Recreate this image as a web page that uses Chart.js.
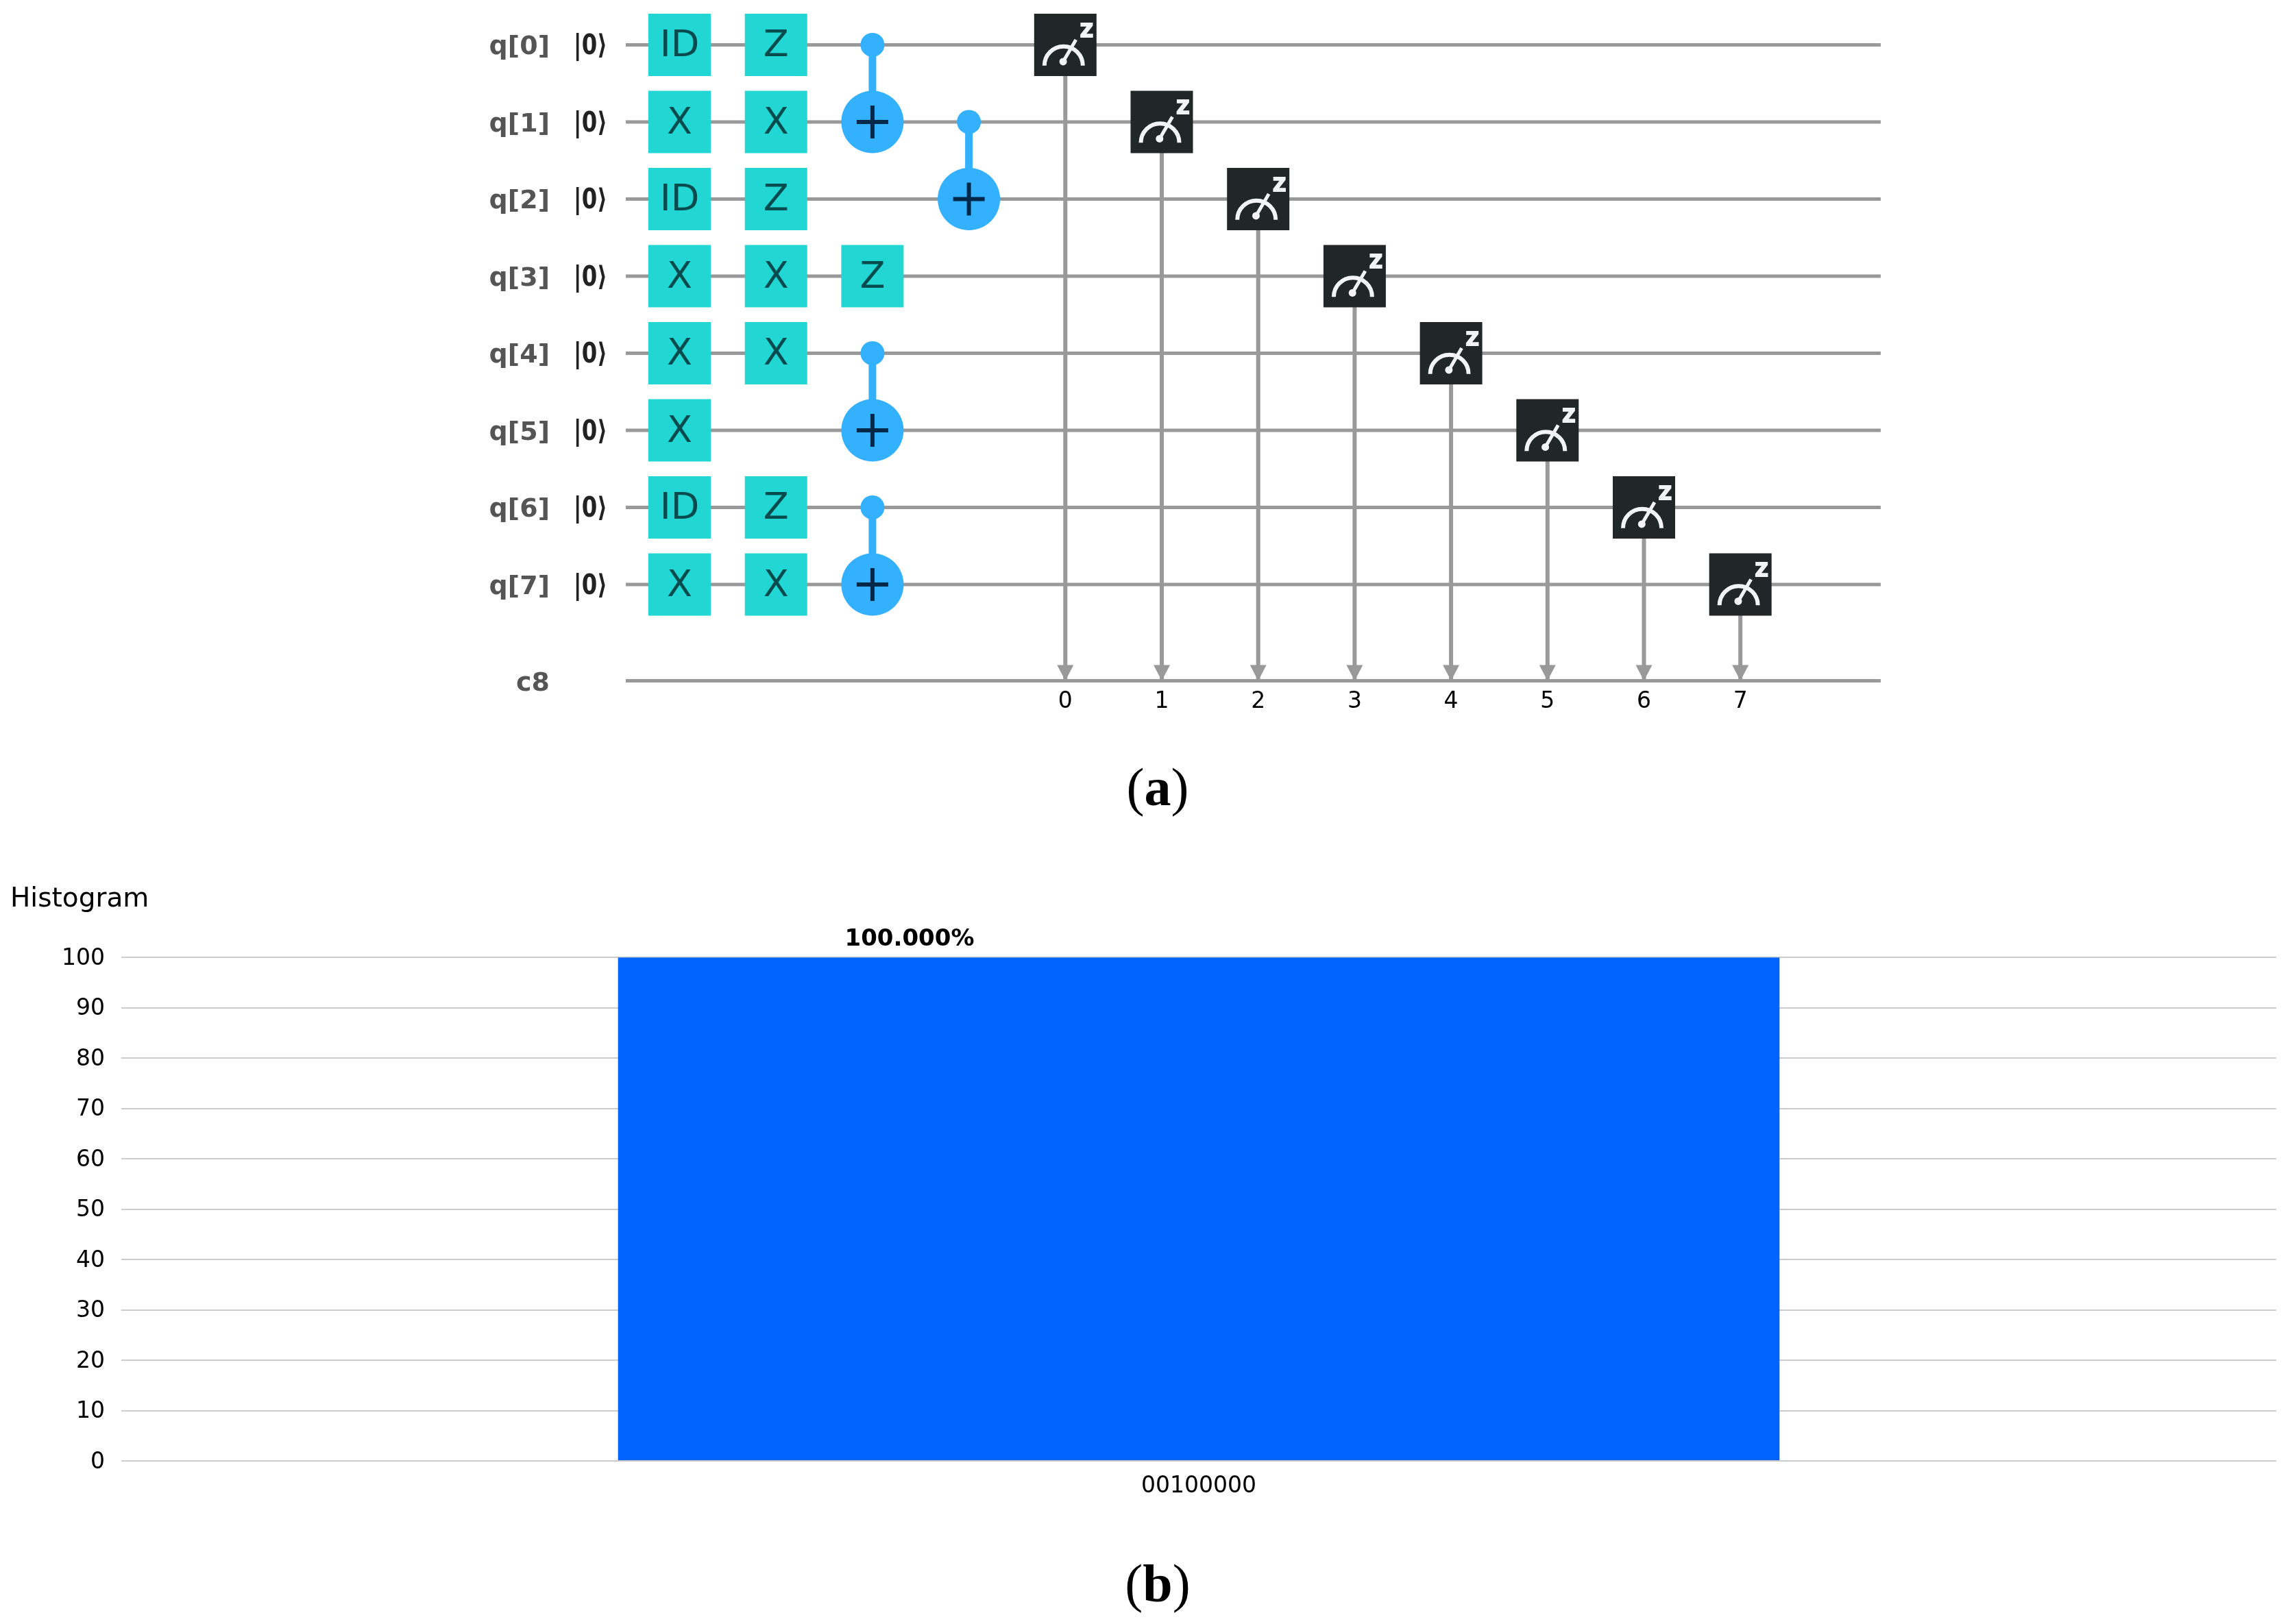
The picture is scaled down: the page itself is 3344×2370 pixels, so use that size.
<!DOCTYPE html>
<html>
<head>
<meta charset="utf-8">
<title>Circuit and histogram</title>
<script src="https://cdn.jsdelivr.net/npm/chart.js@4/dist/chart.umd.min.js"></script>
<style>
  body { margin: 0; background: #fff; width: 3344px; height: 2370px; position: relative; overflow: hidden; }
  canvas { position: absolute; left: 0; }
  #circuit { top: 0; }
  #histogram { top: 1230px; }
  .caption { position: absolute; width: 200px; left: 1589px; text-align: center; font: 78px "Liberation Serif", serif; color: #000; line-height: 1; }
</style>
</head>
<body>
<canvas id="circuit" width="3344" height="1080"></canvas>
<div class="caption" style="top:1110px">(<b>a</b>)</div>
<canvas id="histogram" width="3344" height="970"></canvas>
<div class="caption" style="top:2272px">(<b>b</b>)</div>
<script>
// circuit data
const qubits = ['q[0]', 'q[1]', 'q[2]', 'q[3]', 'q[4]', 'q[5]', 'q[6]', 'q[7]'];
const initState = '|0⟩';
const classicalLabel = 'c8';
const classicalRow = 8.25;
const firstLayer = ['ID', 'X', 'ID', 'X', 'X', 'X', 'ID', 'X'];
const secondLayer = ['Z', 'X', 'Z', 'X', 'X', '', 'Z', 'X'];
const thirdLayer = ['', '', '', 'Z', '', '', '', ''];
const cxCols = [2, 3, 2, 2];
const cxControls = [0, 1, 4, 6];
const cxTargets = [1, 2, 5, 7];
const measureCols = [4, 5, 6, 7, 8, 9, 10, 11];
const measureRows = [0, 1, 2, 3, 4, 5, 6, 7];
const measureBits = ['0', '1', '2', '3', '4', '5', '6', '7'];
const wireStart = -0.558;
const wireEnd = 12.455;

// histogram data
const histCategories = ['00100000'];
const histValues = [100];
const histLabels = ['100.000%'];
const histTicks = [0, 10, 20, 30, 40, 50, 60, 70, 80, 90, 100];

const GREY = '#999999';
const TEAL = '#21d6d3';
const BLUE = '#33b1ff';
const DARK = '#212729';
const ICON = '#f2f4f8';
const FONT = '"DejaVu Sans"';

const wireSet = (row) => ({
    type: 'line', showLine: true, order: 5, pointRadius: 0, borderColor: GREY, borderWidth: 5,
    data: [{ x: wireStart, y: row }, { x: wireEnd, y: row }]
});

const gatePoints = [];
[firstLayer, secondLayer, thirdLayer].forEach((layer, col) => {
    layer.forEach((name, row) => {
        if (name) gatePoints.push({ x: col, y: row, name: name });
    });
});

const circuitSets = [];
qubits.forEach((q, row) => circuitSets.push(wireSet(row)));
circuitSets.push(wireSet(classicalRow));

// measure lines go down to the classical register
measureCols.forEach((col, i) => {
    circuitSets.push({
        type: 'line', showLine: true, order: 4, pointRadius: 0, borderColor: GREY, borderWidth: 6,
        data: [{ x: col, y: measureRows[i] }, { x: col, y: classicalRow }]
    });
});

cxCols.forEach((col, i) => {
    circuitSets.push({
        type: 'line', showLine: true, order: 3, pointRadius: 0, borderColor: BLUE, borderWidth: 11,
        data: [{ x: col, y: cxControls[i] }, { x: col, y: cxTargets[i] }]
    });
});

circuitSets.push({
    order: 2, pointStyle: 'rect', pointRadius: 64.35, pointBackgroundColor: TEAL, pointBorderWidth: 0,
    data: gatePoints
});
circuitSets.push({
    order: 2, pointStyle: 'circle', pointRadius: 17.5, pointBackgroundColor: BLUE, pointBorderWidth: 0,
    data: cxCols.map((col, i) => ({ x: col, y: cxControls[i] }))
});
circuitSets.push({
    order: 2, pointStyle: 'circle', pointRadius: 45.5, pointBackgroundColor: BLUE, pointBorderWidth: 0,
    data: cxCols.map((col, i) => ({ x: col, y: cxTargets[i] }))
});
circuitSets.push({
    order: 2, pointStyle: 'rect', pointRadius: 64.35, pointBackgroundColor: DARK, pointBorderWidth: 0,
    data: measureCols.map((col, i) => ({ x: col, y: measureRows[i] }))
});

// text, plus signs, meter icons and arrows, placed through the scales
const circuitDecor = {
    id: 'circuitDecor',
    afterDatasetsDraw(chart) {
        const ctx = chart.ctx;
        const xs = chart.scales.x;
        const ys = chart.scales.y;
        ctx.save();

        ctx.textAlign = 'right';
        ctx.textBaseline = 'alphabetic';
        qubits.forEach((q, row) => {
            const y = ys.getPixelForValue(row);
            ctx.font = 'bold 38px ' + FONT;
            ctx.fillStyle = '#555555';
            ctx.fillText(q, 802, y + 14);

            // the ket is narrower than the font, so squeeze it
            ctx.save();
            ctx.translate(886, y + 14);
            ctx.scale(0.81, 1);
            ctx.font = 'bold 40px ' + FONT;
            ctx.fillStyle = '#222222';
            ctx.fillText(initState, 0, 0);
            ctx.restore();
        });
        ctx.font = 'bold 38px ' + FONT;
        ctx.fillStyle = '#555555';
        ctx.fillText(classicalLabel, 802, ys.getPixelForValue(classicalRow) + 14);

        ctx.textAlign = 'center';
        ctx.font = '54px ' + FONT;
        ctx.fillStyle = '#064b4e';
        gatePoints.forEach((g) => {
            ctx.fillText(g.name, xs.getPixelForValue(g.x), ys.getPixelForValue(g.y) + 17);
        });

        // plus sign on the targets
        ctx.strokeStyle = '#012749';
        ctx.lineWidth = 6;
        cxCols.forEach((col, i) => {
            const x = xs.getPixelForValue(col);
            const y = ys.getPixelForValue(cxTargets[i]);
            ctx.beginPath();
            ctx.moveTo(x - 23, y);
            ctx.lineTo(x + 23, y);
            ctx.moveTo(x, y - 24);
            ctx.lineTo(x, y + 24);
            ctx.stroke();
        });

        measureCols.forEach((col, i) => {
            const left = xs.getPixelForValue(col) - 45.5;
            const top = ys.getPixelForValue(measureRows[i]) - 45.5;
            ctx.strokeStyle = ICON;
            ctx.fillStyle = ICON;
            ctx.lineWidth = 6;
            ctx.beginPath();
            ctx.arc(left + 43, top + 75.7, 28, Math.PI, 0);
            ctx.stroke();
            ctx.lineWidth = 5;
            ctx.beginPath();
            ctx.moveTo(left + 42.3, top + 70);
            ctx.lineTo(left + 61, top + 38);
            ctx.stroke();
            ctx.beginPath();
            ctx.arc(left + 42.3, top + 70, 5.5, 0, Math.PI * 2);
            ctx.fill();
            ctx.font = 'bold 26px ' + FONT;
            ctx.lineWidth = 2;
            ctx.strokeText('Z', left + 76.5, top + 34);
            ctx.fillText('Z', left + 76.5, top + 34);

            // arrow tip on the classical wire, bit number under it
            const cx = xs.getPixelForValue(col);
            const cy = ys.getPixelForValue(classicalRow);
            ctx.fillStyle = GREY;
            ctx.beginPath();
            ctx.moveTo(cx - 12, cy - 23);
            ctx.lineTo(cx + 12, cy - 23);
            ctx.lineTo(cx, cy);
            ctx.closePath();
            ctx.fill();
            ctx.font = '33px ' + FONT;
            ctx.fillStyle = '#000000';
            ctx.fillText(measureBits[i], cx, cy + 39);
        });
        ctx.restore();
    }
};

new Chart(document.getElementById('circuit'), {
    type: 'scatter',
    data: { datasets: circuitSets },
    plugins: [circuitDecor],
    options: {
        responsive: false,
        animation: false,
        layout: { padding: 0, autoPadding: false },
        plugins: { legend: { display: false }, tooltip: { enabled: false } },
        scales: {
            x: { display: false, min: -7.047, max: 16.72 },
            y: { display: false, reverse: true, min: -0.582, max: 9.018 }
        }
    }
});

// percentage above the bar
const barLabel = {
    id: 'barLabel',
    afterDatasetsDraw(chart) {
        const ctx = chart.ctx;
        chart.getDatasetMeta(0).data.forEach((bar, i) => {
            ctx.save();
            ctx.font = 'bold 34px ' + FONT;
            ctx.fillStyle = '#000000';
            ctx.textAlign = 'center';
            ctx.textBaseline = 'middle';
            ctx.fillText(histLabels[i], bar.x - 422, bar.y - 26);
            ctx.restore();
        });
    }
};

new Chart(document.getElementById('histogram'), {
    type: 'bar',
    data: {
        labels: histCategories,
        datasets: [{
            data: histValues,
            backgroundColor: '#0062ff',
            categoryPercentage: 1,
            barPercentage: 0.539
        }]
    },
    plugins: [barLabel],
    options: {
        responsive: false,
        animation: false,
        layout: { padding: { left: 15, right: 23, top: 59, bottom: 0 } },
        plugins: {
            legend: { display: false },
            tooltip: { enabled: false },
            title: {
                display: true,
                text: 'Histogram',
                align: 'start',
                color: '#000000',
                font: { family: FONT, size: 39, weight: 'normal' },
                padding: { top: 0, bottom: 61.5 }
            }
        },
        scales: {
            x: {
                grid: { display: false },
                border: { display: false },
                ticks: { color: '#000000', padding: 10, font: { family: FONT, size: 33 } },
                afterFit(scale) { scale.height = 68; }
            },
            y: {
                min: 0,
                max: 100,
                border: { display: false },
                grid: { color: '#cccccc', lineWidth: 2, drawTicks: false },
                afterBuildTicks(scale) { scale.ticks = histTicks.map((v) => ({ value: v })); },
                ticks: { color: '#000000', padding: 24, labelOffset: 2, font: { family: FONT, size: 33 } },
                afterFit(scale) { scale.width = 162; }
            }
        }
    }
});
</script>
</body>
</html>
